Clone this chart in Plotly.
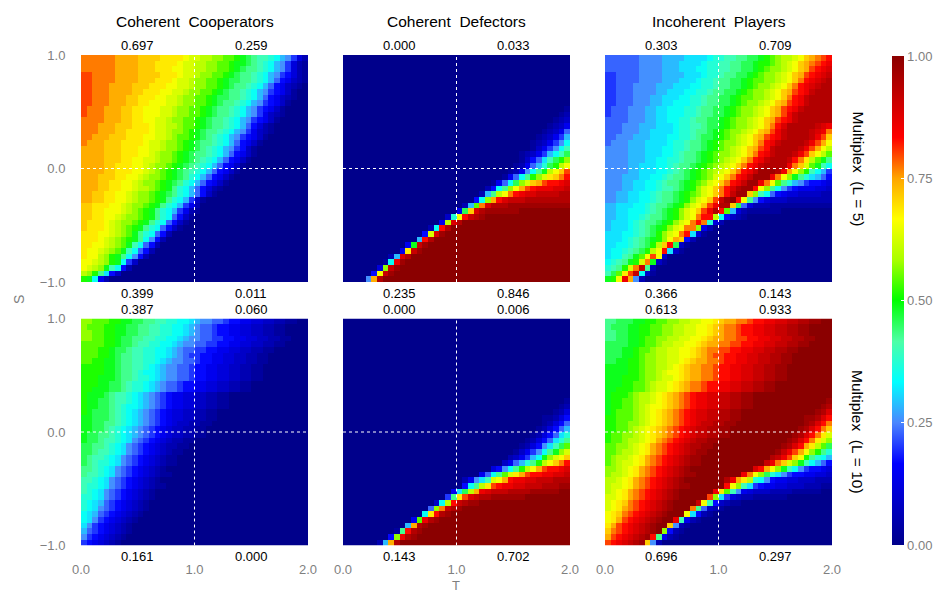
import plotly.graph_objects as go

# Each string is one row of cells, top row (S = 1) first, left cell (T = 0) first.
# A cell is one base-36 digit: 0 = 0.00 ... z = 1.00. A short row repeats its last digit.
CC_L5 = [
"rrrrrrqqqqppppoooonmmllkkjjihgfeedca9742",
"rrrrrrqqqqpppoooonmmllkkjjihhgfedca97421",
"rrrrrrqqqqpppooonnmmllkkjjihgffedca97421",
"ssrrrrqqqqppppooonmmlkkjjihgffedca976421",
"ssrrrrqqqqpppooonmmlkkjjihggffedca865321",
"ssrrrqqqqpppooonnmmlkkjjihgffedca8653210",
"ssrrrqqqqppooonnmmlkkjjihgffedca97653100",
"ssrrrqqqppooonnmmlkkjjihggffedca86532100",
"ssrrrqqqppoonnnmmlkkjjihgffedca976531000",
"srrrqqqppoonnnmmlkkjjihgffedca9765310000",
"srrrqqqppoonnnmmlkkjjihgffedca9753210000",
"rrrrqqqppoonnmmlkkjjihgffedca97653100000",
"rrrqqqpppooonmmllkjjihgffedca864210",
"rrrqqqppoooonmmlkkjihgffedca9753210",
"rrqqqpppooonnmmlkjjihgfedca9765310",
"rqqqpppoooonmmlkkjihgffedca865310",
"qqqqpppooonnmmlkkjihgfedca976310",
"qqqqpppooonnmlkkjihgffedca865310",
"qqqqpppoonnmmlkkjihgfedca865310",
"qqqqppooonnmlkkjihgfedca865310",
"qqqqppooonnmlkjihgfedca865310",
"qqqpppoonnmlkkjihgfdca865310",
"qqqppoonnmlkkjihgfdca865310",
"qqqppoonnmllkjihfdca864210",
"qqppoonnmlkkjihgfdca86310",
"qqppoonnmlkkjihfdca7310",
"ppooonnmlkkjihfdca7520",
"ppoonnnmlkjihfdca75210",
"ppoonnmlkkjihfdc86310",
"pooonmlkkjihfdc86310",
"pooonmlkjihfdc86310",
"ooonnmlkjhfdc8620",
"ooonmlkjihfc9620",
"oonnmlkjhec8620",
"onnmlkjhec8620",
"onnlkihfc9620",
"nnmlkihc730",
"nmlkhec620",
"lkifb630",
"ihc520",
]

CD_L5 = [
"0", "0", "0", "0", "0", "0", "0", "0", "0",
"0000000000000000000000000000000000000001",
"0000000000000000000000000000000000000012",
"0000000000000000000000000000000000000123",
"0000000000000000000000000000000000001235",
"0000000000000000000000000000000000012358",
"000000000000000000000000000000000012357a",
"000000000000000000000000000000000123579c",
"000000000000000000000000000000000" + "13579ce",
"0000000000000000000000000000000" + "12357aceg",
"0000000000000000000000000000000" + "1368begik",
"000000000000000000000000000000" + "1258adgiln",
"00000000000000000000000000000" + "1259cfhlnps",
"0000000000000000000000000000" + "158cfikmoprt",
"00000000000000000000000000" + "158cgkmpqsttuv",
"0000000000000000000000000" + "26cfknqstuuuvvw",
"000000000000000000000000" + "2aflnrtuvvwwwwxx",
"00000000000000000000000" + "6ckqtvwwwxxxxxxxx",
"000000000000000000000" + "2ajrvxxxyyyyyyyyyyy",
"00000000000000000000" + "5gpvxyyyyyyz",
"000000000000000000" + "3dntwxyz",
"00000000000000000" + "5lvxz",
"000000000000000" + "2ctxz",
"00000000000000" + "6mvyz",
"0000000000000" + "atxz",
"00000000000" + "5hwyz",
"0000000000" + "5owyz",
"00000000" + "2avxz",
"0000000" + "1cuyz",
"000000" + "4kwyz",
"00000" + "6nwyz",
"0000" + "9qxz",
]

IP_L5 = [
"8888889999aaaabbbbcddeeffgghijkllmnpqrst",
"8888889999aaabbbbcddeeffgghiijklmnpqrstu",
"8888889999aaabbbccddeeffgghijkklmnpqstuv",
"7788889999aaaabbbcddeffgghijkklmnpqstuvw",
"7788889999aaabbbcddeffgghijjkklmnprtuvwx",
"778889999aaabbbccddeffgghijkklmnprtuvwxx",
"778889999aabbbccddeffgghijkklmnpqstuwxxx",
"77888999aabbbccddeffgghijjkklmnprtuwxxxx",
"77888999aabbcccddeffgghijkklmnpqstuwxxxx",
"7888999aabbcccddeffgghijkklmnpqstuwxxxxx",
"7888999aabbcccddeffgghijkklmnpqsuwxxxxxx",
"8888999aabbccddeffgghijkklmnpqstuwxxxxxx",
"888999aaabbbcddeefgghijkklmnprtvxxxxxwvu",
"888999aabbbbcddeffghijkklmnpqsuwxxxxwvur",
"88999aaabbbccddefgghijklmnpqstuwxxxxwusp",
"8999aaabbbbcddeffghijkklmnprtuwxxxxwusqn",
"9999aaabbbccddeffghijklmnpqstwxxxxwusqnl",
"9999aaabbbccdeffghijkklmnprtuwxxxwuspnlj",
"9999aaabbccddeffghijklmnprtuwxxxwtroljhf",
"9999aabbbccdeffghijklmnprtuwxxxxurpmjhec",
"9999aabbbccdefghijklmnprtuwyyyxuqnkieca7",
"999aaabbccdeffghijkmnprtuwyyyurnkhfdba86",
"999aabbccdeffghijkmnprtuwyyurnjfda976654",
"999aabbccdeefghikmnprtvxyytnkfc976555443",
"99aabbccdeffghijkmnprtwyypkec86544333322",
"99aabbccdeffghikmnpswyztnf96433322222222",
"aabbbccdeffghikmnpsuxxpg8422211111111111",
"aabbcccdefghikmnpsuxtja42111111000000000",
"aabbccdeffghikmnrttlc63210",
"abbbcdeffghikmnrtrd420",
"abbbcdefghikmnrrk520",
"bbbccdefgikmnrtb410",
"bbbcdefghiknqp620",
"bbccdefgilptg310",
"bccdefgilntb310",
"bccefhjnsn30",
"cdefhimrh310",
"defimrwf20",
"egjoswc310",
"hinuq920",
]

CC_L10 = [
"kkjjjiihhggffeeddccba998876655443322110",
"kjjjiihhggffeeddccba98876655443322110",
"kkjjiihhggffeeddccba98876655443322110",
"kkjjiihggffeeddccba9988776655443322110",
"jjjjiihggfeeddccba9988776655443322110",
"jjjiihggfeeddccba988776655443322110",
"jjjiihgffeeddccba98776655443322110",
"jjiihhgffeeddcba998876655443322110",
"iiiihhgffeedcba998876655443322110",
"iiiihhgffedccba9988766554433221100",
"iiihhhgffeddcba9988766554433221100",
"iiihhggfeddcba988766554433221100",
"iihhhggfeddcba988766554433221100",
"ihhhgfeedcba987655443322110",
"ihhggfeedcba987655443322110",
"ihhggfedccba987655443322110",
"ihgggfedcba98765443322110",
"hhgggfedcba98765443322110",
"hhggffedcba9876543322110",
"hhggfedcba9876543322110",
"hggffedcba9876543322110",
"hggfeedcb987654322110",
"ggffedcb987654322110",
"ggfeedcb98765432110",
"gfeedcb98765432110",
"gfeddcb98765432110",
"ffedcb98765432100",
"feedcb98765432110",
"eedcb9876543210",
"eddcb98765432110",
"edcb98765432100",
"ddcb9876543210",
"dcba876543210",
"dcb9876543210",
"cba8765432100",
"cb976543210",
"b976543210",
"a876543210",
"976543210",
"76543210",
]

CD_L10 = [
"0", "0", "0", "0", "0", "0", "0", "0", "0", "0", "0", "0", "0", "0",
"000000000000000000000000000000000000000" + "1",
"00000000000000000000000000000000000000" + "12",
"0000000000000000000000000000000000000" + "124",
"00000000000000000000000000000000000" + "11246",
"00000000000000000000000000000000000" + "12468",
"0000000000000000000000000000000000" + "12468a",
"000000000000000000000000000000000" + "12468bd",
"00000000000000000000000000000000" + "12468bdf",
"0000000000000000000000000000000" + "12469begj",
"000000000000000000000000000000" + "13579cfhkm",
"00000000000000000000000000000" + "2357achkmnp",
"0000000000000000000000000000" + "358adfilnprt",
"00000000000000000000000000" + "469cfilnqsttuv",
"000000000000000000000000" + "58cfjmoqsttuuvvw",
"000000000000000000000" + "259bemnqtuuvvwwwxxx",
"000000000000000000000" + "6cflostuuvvwwwxxxyy",
"0000000000000000000" + "5bglquvwwwxxxxyyyyyzz",
"000000000000000000" + "7fosvwxxyyyyyyz",
"0000000000000000" + "3cltwxyyz",
"000000000000000" + "8krwxyz",
"00000000000000" + "cotxyz",
"000000000000" + "5juxyz",
"00000000000" + "aqxyz",
"000000000" + "1ftxyz",
"00000000" + "6kuxyz",
"000000" + "2aqxz",
]

IP_L10 = [
"ffggghhiijjkkllmmnnopqqrrsttuuvvwwxxyyzz",
"fggghhiijjkkllmmnnopqrrsttuuvvwwxxyyz",
"ffgghhiijjkkllmmnnopqrrsttuuvvwwxxyyz",
"ffgghhijjkkllmmnnopqqrrssttuuvvwwxxyyz",
"gggghhijjkllmmnnopqqrrssttuuvvwwxxyyz",
"ggghhijjkllmmnnopqrrssttuuvvwwxxyyz",
"ggghhijkkllmmnnopqrssttuuvvwwxxyyz",
"gghhiijkkllmmnopqqrrsttuuvvwwxxyyz",
"hhhhiijkkllmnopqqrrsttuuvvwwxxyyz",
"hhhhiijkklmnnopqqrrsttuuvvwwxxyyz",
"hhhiiijkklmmnopqqrrsttuuvvwwxxyyz",
"hhhiijjklmmnopqrrsttuuvvwwxxyyz",
"hhiiijjklmmnopqrrsttuuvvwwxxyyz",
"hiiijkllmnopqrstuuvvwwxxyyz",
"hiijjkllmnopqrstuuvvwwxxyy" + "zzzzzzzzzzzzz" + "y",
"hiijjklmnnopqrstuuvvwwxxyy" + "zzzzzzzzzzzz" + "yx",
"hijjjklmnopqrstuvvwwxxyy" + "zzzzzzzzzzzzz" + "yxv",
"iijjjklmnopqrstuvvwwxxyy" + "zzzzzzzzzzz" + "yyxvt",
"iijjkklmnopqrstuvwwxxyy" + "zzzzzzzzzzzz" + "yxvtr",
"iijjklmnopqrstuvwwxxyy" + "zzzzzzzzzzzz" + "yxvtrp",
"ijjkklmnopqrstuvwwxxyy" + "zzzzzzzzzzz" + "yxvtrom",
"ijjkllmnoqrstuvwxxyy" + "zzzzzzzzzzzz" + "yxvtromk",
"jjkklmnoqrstuvwxxyy" + "zzzzzzzzzzzz" + "yxvtqoljg",
"jjkllmnoqrstuvwxyy" + "zzzzzzzzzzzz" + "ywusqnkifd",
"jkllmnoqrstuvwxyy" + "zzzzzzzzzzzz" + "xwuspnifdca",
"jklmmnoqrstuvwxyy" + "zzzzzzzzzzz" + "wurpmkheca86",
"kklmnoqrstuvwxy" + "zzzzzzzzzzz" + "vtqnkhec976654",
"kllmnoqrstuvwxyy" + "zzzzzzzz" + "urnkgdb976655443",
"llmnoqrstuvwxy" + "zzzzzzz" + "xuqoldc965544333222",
"lmmnoqrstuvwxyy" + "zzzzzz" + "tnkeb765" + "54433322211",
"lmnoqrstuvwxy" + "zzzzzz" + "uoje954" + "33322221111100",
"mmnoqrstuvwxy" + "zzzzz" + "skb74" + "3221111110",
"mnoprstuvwxy" + "zzzz" + "wne632110",
"mnoqrstuvwxy" + "zzz" + "rf83210",
"noprstuvwxy" + "zzz" + "nb6210",
"noqstuvwxy" + "zz" + "ue5210",
"oqstuvwxy" + "zz" + "p9210",
"prstuvwxy" + "z" + "k6210",
"qstuvwxy" + "tf5210",
"stuvwxyp9200",
]

PANELS = [CC_L5, CD_L5, IP_L5, CC_L10, CD_L10, IP_L10]
COLUMN_TITLES = ["Coherent\u00a0 Cooperators", "Coherent\u00a0 Defectors", "Incoherent\u00a0 Players"]
ROW_TITLES = ["Multiplex\u00a0 (L\u00a0=\u00a05)", "Multiplex\u00a0 (L\u00a0=\u00a010)"]
# Quadrant shares: top-left, top-right, bottom-left, bottom-right
SHARES = [
    ["0.697", "0.259", "0.399", "0.011"],
    ["0.000", "0.033", "0.235", "0.846"],
    ["0.303", "0.709", "0.366", "0.143"],
    ["0.387", "0.060", "0.161", "0.000"],
    ["0.000", "0.006", "0.143", "0.702"],
    ["0.613", "0.933", "0.696", "0.297"],
]
T_TICKS = [0, 1, 2]
S_TICKS = [-1, 0, 1]
BAR_TICKS = [0, 0.25, 0.5, 0.75, 1]

COLORS = [
    [0, "#00008b"], [1/6, "#0000ff"], [0.25, "#4a86ff"], [1/3, "#00ffff"],
    [5/12, "#4dffa6"], [0.5, "#00ff00"], [7/12, "#aaff00"], [2/3, "#ffff00"],
    [0.75, "#ffa500"], [5/6, "#ff0000"], [1, "#8b0000"],
]

W, H = 943, 593
LEFTS = [81, 343, 605]
TOPS = [55, 318.5]
SIZE = 227
GREY = "#7f7f7f"
FONT = "Liberation Sans"


def decode(rows, n=40):
    out = []
    for row in reversed(rows):
        row = row.ljust(n, row[-1])[:n]
        out.append([int(c, 36) / 35 for c in row])
    return out


fig = go.Figure()
annotations = []
shapes = []
for k, rows in enumerate(PANELS):
    r, c = divmod(k, 3)
    sfx = "" if k == 0 else str(k + 1)
    fig.add_trace(go.Heatmap(
        z=decode(rows), x0=0.025, dx=0.05, y0=-0.975, dy=0.05,
        coloraxis="coloraxis", xaxis="x" + sfx, yaxis="y" + sfx, hoverongaps=False,
    ))
    left, top = LEFTS[c], TOPS[r]
    fig.layout["xaxis" + sfx] = dict(
        domain=[left / W, (left + SIZE) / W], range=[0, 2], anchor="y" + sfx,
        tickvals=T_TICKS if r == 1 else [], ticktext=["0.0", "1.0", "2.0"] if r == 1 else [],
        showgrid=False, zeroline=False, showline=False, ticks="outside" if r == 1 else "",
        ticklen=12, tickcolor="rgba(0,0,0,0)", tickfont=dict(color=GREY, size=13, family=FONT),
    )
    fig.layout["yaxis" + sfx] = dict(
        domain=[1 - (top + SIZE) / H, 1 - top / H], range=[-1, 1], anchor="x" + sfx,
        tickvals=S_TICKS if c == 0 else [], ticktext=["\u22121.0", "0.0", "1.0"] if c == 0 else [],
        showgrid=False, zeroline=False, showline=False, ticks="outside" if c == 0 else "",
        ticklen=12, tickcolor="rgba(0,0,0,0)", tickfont=dict(color=GREY, size=13, family=FONT),
    )
    xr, yr = "x" + sfx, "y" + sfx
    shapes.append(dict(type="line", xref=xr, yref=yr, x0=1, x1=1, y0=-1, y1=1,
                       line=dict(color="white", width=1, dash="3px,3px")))
    shapes.append(dict(type="line", xref=xr, yref=yr, x0=0, x1=2, y0=0, y1=0,
                       line=dict(color="white", width=1, dash="3px,3px")))
    tl, tr, bl, br = SHARES[k]
    for txt, xfrac, ypx in [
        (tl, 0.25, top - 9), (tr, 0.75, top - 9),
        (bl, 0.25, top + SIZE + 11), (br, 0.75, top + SIZE + 11),
    ]:
        annotations.append(dict(
            text=txt, xref="paper", yref="paper", showarrow=False,
            x=(left + xfrac * SIZE) / W, y=1 - ypx / H,
            xanchor="center", yanchor="middle",
            font=dict(size=13, color="black", family=FONT),
        ))

for c, t in enumerate(COLUMN_TITLES):
    annotations.append(dict(
        text=t, xref="paper", yref="paper", showarrow=False,
        x=(LEFTS[c] + SIZE / 2) / W, y=1 - 21 / H, xanchor="center", yanchor="middle",
        font=dict(size=15.5, color="black", family=FONT),
    ))
for r, t in enumerate(ROW_TITLES):
    annotations.append(dict(
        text=t, xref="paper", yref="paper", showarrow=False, textangle=90,
        x=858 / W, y=1 - (TOPS[r] + SIZE / 2) / H, xanchor="center", yanchor="middle",
        font=dict(size=15.5, color="black", family=FONT),
    ))
annotations.append(dict(text="S", xref="paper", yref="paper", showarrow=False, textangle=-90,
                        x=19 / W, y=1 - 300 / H, xanchor="center", yanchor="middle",
                        font=dict(size=14, color=GREY, family=FONT)))
annotations.append(dict(text="T", xref="paper", yref="paper", showarrow=False,
                        x=456 / W, y=1 - 585.5 / H, xanchor="center", yanchor="middle",
                        font=dict(size=13, color=GREY, family=FONT)))

fig.update_layout(
    width=W, height=H, autosize=False, margin=dict(l=0, r=0, t=0, b=0, autoexpand=False),
    paper_bgcolor="white", plot_bgcolor="white", showlegend=False,
    font=dict(family=FONT),
    annotations=annotations, shapes=shapes,
    coloraxis=dict(
        colorscale=COLORS, cmin=0, cmax=1,
        colorbar=dict(
            x=892 / W, xanchor="left", xref="container", thickness=12, thicknessmode="pixels",
            y=(H - 545) / H, yanchor="bottom", yref="container", len=489 / H, lenmode="fraction",
            xpad=0, ypad=0, outlinewidth=0,
            tickvals=BAR_TICKS, ticktext=["0.00", "0.25", "0.50", "0.75", "1.00"],
            ticks="inside", ticklen=3, tickcolor="white",
            tickfont=dict(color=GREY, size=13, family=FONT),
        ),
    ),
)

fig.write_html("out.html", config={"displayModeBar": False},
               post_script="document.body.style.margin='0';document.body.style.overflow='hidden';")
